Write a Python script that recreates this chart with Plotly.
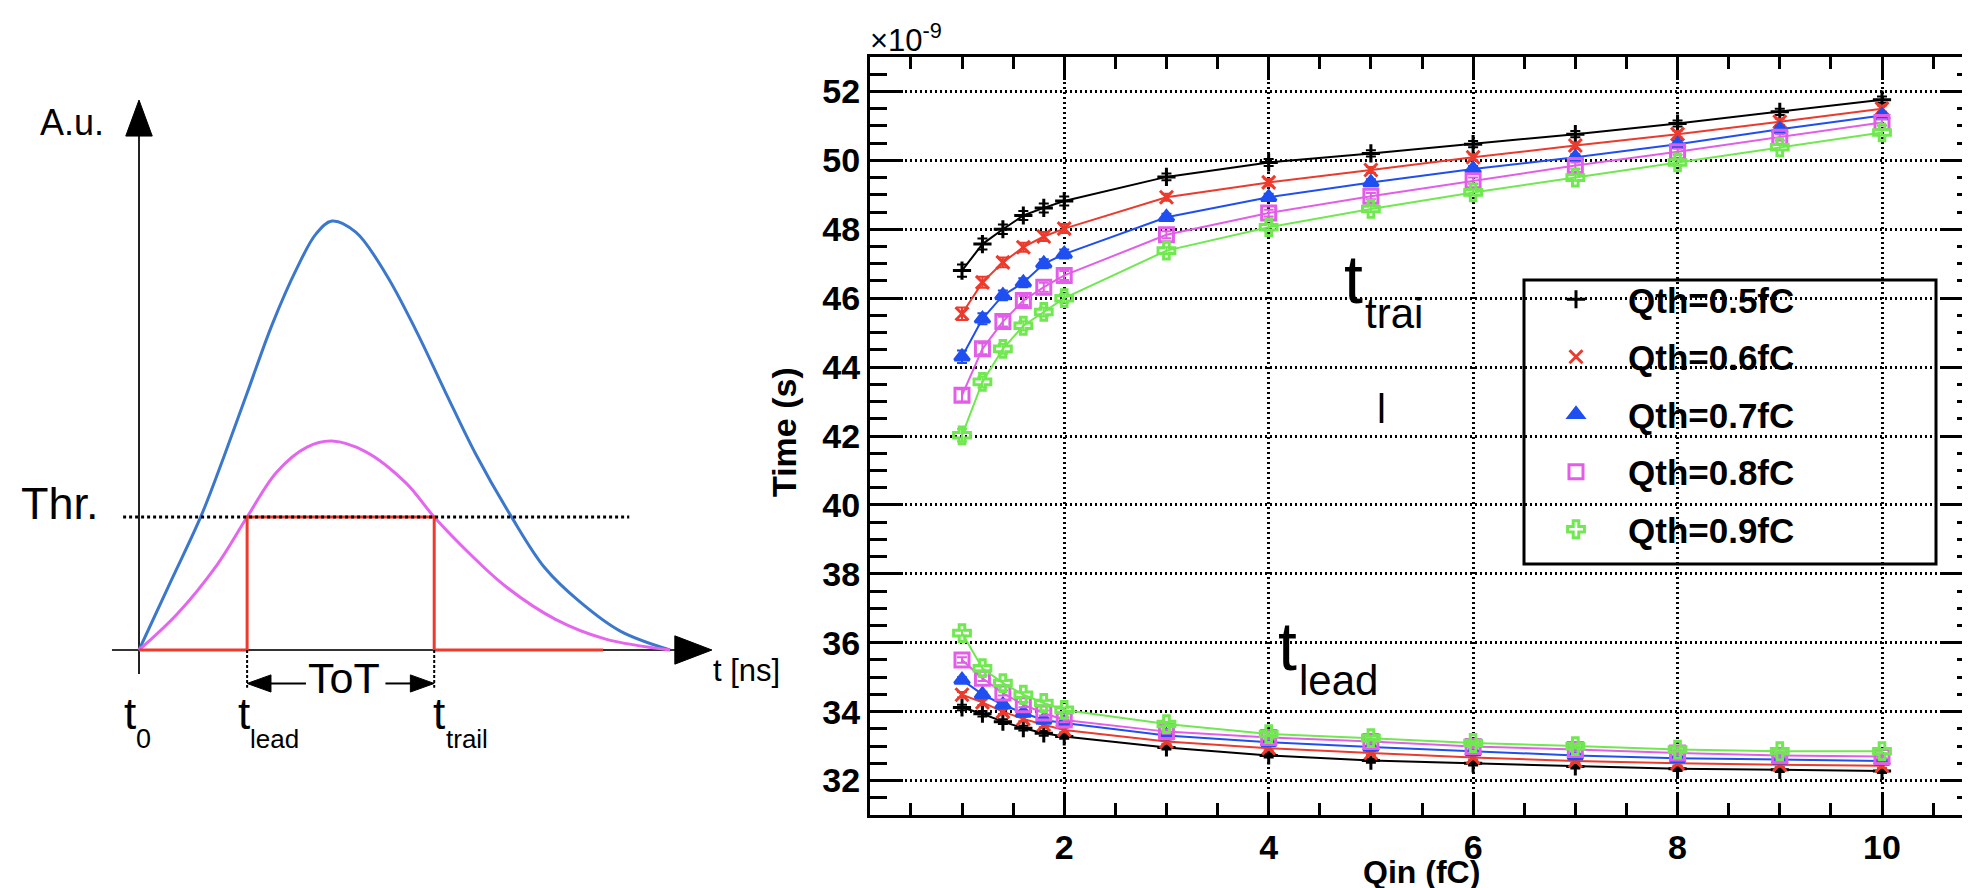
import plotly.graph_objects as go

W, H = 1970, 888

# ---------------- data: right panel (Time vs Qin) ----------------
qin = [1.0, 1.2, 1.4, 1.6, 1.8, 2.0, 3, 4, 5, 6, 7, 8, 9, 10]
series_names = ["Qth=0.5fC", "Qth=0.6fC", "Qth=0.7fC", "Qth=0.8fC", "Qth=0.9fC"]

# trailing edge time (x1e-9 s)
t_trail_05 = [46.80, 47.57, 48.00, 48.40, 48.62, 48.82, 49.52, 49.94, 50.20, 50.47, 50.76, 51.07, 51.41, 51.76]
t_trail_06 = [45.55, 46.46, 47.04, 47.48, 47.79, 48.02, 48.93, 49.36, 49.72, 50.09, 50.43, 50.76, 51.12, 51.50]
t_trail_07 = [44.30, 45.40, 46.08, 46.45, 47.00, 47.28, 48.35, 48.93, 49.36, 49.75, 50.09, 50.47, 50.90, 51.30]
t_trail_08 = [43.18, 44.53, 45.32, 45.93, 46.32, 46.66, 47.84, 48.47, 48.96, 49.41, 49.85, 50.25, 50.67, 51.10]
t_trail_09 = [42.02, 43.57, 44.53, 45.20, 45.60, 46.00, 47.38, 48.06, 48.59, 49.07, 49.50, 49.94, 50.38, 50.81]

# leading edge time (x1e-9 s)
t_lead_05 = [34.12, 33.94, 33.71, 33.52, 33.37, 33.28, 32.96, 32.73, 32.58, 32.50, 32.41, 32.34, 32.31, 32.28]
t_lead_06 = [34.49, 34.27, 34.00, 33.79, 33.62, 33.47, 33.13, 32.94, 32.80, 32.67, 32.57, 32.50, 32.46, 32.43]
t_lead_07 = [34.92, 34.50, 34.20, 33.96, 33.76, 33.67, 33.31, 33.11, 32.97, 32.84, 32.73, 32.65, 32.60, 32.57]
t_lead_08 = [35.50, 34.97, 34.54, 34.20, 33.96, 33.76, 33.42, 33.25, 33.13, 32.99, 32.90, 32.80, 32.73, 32.70]
t_lead_09 = [36.28, 35.26, 34.83, 34.49, 34.25, 34.05, 33.64, 33.35, 33.23, 33.09, 33.00, 32.90, 32.85, 32.85]

err_trail = [0.18, 0.16, 0.14, 0.13, 0.13, 0.13, 0.10, 0.10, 0.09, 0.09, 0.09, 0.09, 0.09, 0.09]
err_lead = [0.08, 0.08, 0.07, 0.07, 0.07, 0.07, 0.06, 0.06, 0.06, 0.06, 0.06, 0.06, 0.06, 0.06]

trail_all = [t_trail_05, t_trail_06, t_trail_07, t_trail_08, t_trail_09]
lead_all = [t_lead_05, t_lead_06, t_lead_07, t_lead_08, t_lead_09]

y_ticks = [32, 34, 36, 38, 40, 42, 44, 46, 48, 50, 52]
x_ticks = [2, 4, 6, 8, 10]

# ---------------- data: left panel (schematic pulse) ----------------
pulse_big_t = [0.00, 0.60, 1.17, 1.60, 2.04, 2.51, 2.98, 3.34, 3.64, 4.09, 4.66, 5.23, 5.79, 6.36, 7.02, 7.66, 8.32, 9.08, 10.02]
pulse_big_a = [0.000, 0.160, 0.312, 0.450, 0.599, 0.758, 0.890, 0.970, 1.000, 0.974, 0.876, 0.744, 0.599, 0.455, 0.312, 0.191, 0.112, 0.044, 0.000]
pulse_small_t = [0.00, 0.72, 1.47, 2.04, 2.60, 3.17, 3.64, 4.28, 5.04, 5.57, 6.26, 6.92, 7.85, 8.79, 10.02]
pulse_small_a = [0.000, 0.084, 0.198, 0.310, 0.415, 0.473, 0.487, 0.462, 0.389, 0.310, 0.222, 0.148, 0.072, 0.026, 0.000]
threshold = 0.31
t_lead_mark = 2.04
t_trail_mark = 5.57
digital_end = 8.755

# ---------------- styles ----------------
colors = ["#000000", "#ec3a2c", "#1f4ff0", "#e25ee8", "#70e850"]
symbols = ["cross-thin", "x-thin", "triangle-up", "square-open", "cross-open"]
msizes = [13, 13, 13, 14, 14]
FONT = "Liberation Sans, Arial, sans-serif"


def px(x):
    return x / W


def py(y):
    return 1 - y / H


fig = go.Figure()

for i in range(5):
    xs = qin + [None] + qin
    ys = trail_all[i] + [None] + lead_all[i]
    es = err_trail + [None] + err_lead
    fig.add_trace(go.Scatter(
        x=xs, y=ys, mode="lines", line=dict(color=colors[i], width=2),
        showlegend=False, hoverinfo="skip", xaxis="x", yaxis="y"))
    fig.add_trace(go.Scatter(
        x=xs, y=ys, mode="markers", name=series_names[i],
        legendgroup=series_names[i],
        marker=dict(symbol=symbols[i], size=msizes[i], color=colors[i],
                    line=dict(color=colors[i], width=3)),
        error_y=dict(type="data", array=es, visible=True, color=colors[i],
                     thickness=2, width=5),
        xaxis="x", yaxis="y"))

# ---------------- schematic traces ----------------
fig.add_trace(go.Scatter(x=pulse_big_t, y=pulse_big_a, mode="lines",
                         line=dict(color="#3b78cc", width=3, shape="spline", smoothing=1.0),
                         showlegend=False, xaxis="x2", yaxis="y2", hoverinfo="skip"))
fig.add_trace(go.Scatter(x=pulse_small_t, y=pulse_small_a, mode="lines",
                         line=dict(color="#e466ef", width=3, shape="spline", smoothing=1.0),
                         showlegend=False, xaxis="x2", yaxis="y2", hoverinfo="skip"))
fig.add_trace(go.Scatter(
    x=[0, t_lead_mark, t_lead_mark, t_trail_mark, t_trail_mark, digital_end],
    y=[0, 0, threshold, threshold, 0, 0], mode="lines",
    line=dict(color="#ee3a2c", width=3), showlegend=False,
    xaxis="x2", yaxis="y2", hoverinfo="skip"))

shapes = []
# schematic axes
shapes.append(dict(type="line", xref="x2", yref="y2", x0=0, x1=0, y0=-0.056, y1=1.20,
                   line=dict(color="#222", width=2), layer="below"))
shapes.append(dict(type="line", xref="x2", yref="y2", x0=-0.51, x1=10.2, y0=0, y1=0,
                   line=dict(color="#333", width=2), layer="below"))
shapes.append(dict(type="path", xref="x2", yref="y2",
                   path="M 0,1.282 L 0.25,1.198 L -0.25,1.198 Z",
                   fillcolor="black", line=dict(color="black", width=1)))
shapes.append(dict(type="path", xref="x2", yref="y2",
                   path="M 10.81,0 L 10.11,0.033 L 10.11,-0.033 Z",
                   fillcolor="black", line=dict(color="black", width=1)))
# threshold line
shapes.append(dict(type="line", xref="x2", yref="y2", x0=-0.30, x1=9.25, y0=threshold, y1=threshold,
                   line=dict(color="black", width=3, dash="3px,3px")))
# dashed marks under t_lead / t_trail
for tm in (t_lead_mark, t_trail_mark):
    shapes.append(dict(type="line", xref="x2", yref="y2", x0=tm, x1=tm, y0=0, y1=-0.088,
                       line=dict(color="black", width=2, dash="3px,2px")))
# ToT arrows
tot_y = -0.078
shapes.append(dict(type="line", xref="x2", yref="y2", x0=t_lead_mark + 0.35, x1=3.15, y0=tot_y, y1=tot_y,
                   line=dict(color="black", width=2)))
shapes.append(dict(type="line", xref="x2", yref="y2", x0=4.65, x1=t_trail_mark - 0.35, y0=tot_y, y1=tot_y,
                   line=dict(color="black", width=2)))
shapes.append(dict(type="path", xref="x2", yref="y2",
                   path=f"M {t_lead_mark},{tot_y} L {t_lead_mark + 0.45},{tot_y + 0.02} "
                        f"L {t_lead_mark + 0.45},{tot_y - 0.02} Z",
                   fillcolor="black", line=dict(color="black", width=1)))
shapes.append(dict(type="path", xref="x2", yref="y2",
                   path=f"M {t_trail_mark},{tot_y} L {t_trail_mark - 0.45},{tot_y + 0.02} "
                        f"L {t_trail_mark - 0.45},{tot_y - 0.02} Z",
                   fillcolor="black", line=dict(color="black", width=1)))

# white patches in the right panel (pasted labels)
shapes.append(dict(type="rect", xref="paper", yref="paper",
                   x0=px(1312), x1=px(1440), y0=py(482), y1=py(236),
                   fillcolor="white", line=dict(width=0), layer="between"))
shapes.append(dict(type="rect", xref="paper", yref="paper",
                   x0=px(1250), x1=px(1390), y0=py(700), y1=py(590),
                   fillcolor="white", line=dict(width=0), layer="between"))
# legend box
shapes.append(dict(type="rect", xref="paper", yref="paper",
                   x0=px(1516), x1=px(1928), y0=py(556), y1=py(272),
                   fillcolor="white", line=dict(color="black", width=3), layer="between"))

annotations = []


def txt(text, x, y, size, xanchor="center", yanchor="middle", bold=False, angle=0):
    annotations.append(dict(
        text=text, x=px(x), y=py(y), xref="paper", yref="paper", showarrow=False,
        xanchor=xanchor, yanchor=yanchor, textangle=angle,
        font=dict(family=FONT, size=size, color="black", weight="bold" if bold else "normal")))


# schematic labels
txt("A.u.", 64, 114, 36)
txt("Thr.", 52, 496, 45)
txt("t", 122, 705, 44)
txt("0", 135, 731, 27)
txt("t", 236, 705, 44)
txt("lead", 266, 731, 26)
txt("t", 431, 705, 44)
txt("trail", 459, 731, 26)
txt("ToT", 336, 670, 43)
txt("t [ns]", 738, 662, 31)

# right panel labels
txt("×10<sup>-9</sup>", 860, 30, 31, xanchor="left")
txt("Time (s)", 776, 424, 34, bold=True, angle=-90)
txt("Qin (fC)", 1413, 864, 32, bold=True)
txt("t", 1345, 271, 68)
txt("trai", 1386, 305, 42)
txt("l", 1373, 401, 40)
txt("t", 1279, 638, 68)
txt("lead", 1330, 672, 42)

axis_common = dict(showline=True, linecolor="black", linewidth=3, mirror="ticks",
                   ticks="inside", tickcolor="black", tickwidth=3,
                   showgrid=True, gridcolor="black", gridwidth=2.5, griddash="2px,3px",
                   zeroline=False,
                   tickfont=dict(family=FONT, size=34, color="black", weight="bold"))

fig.update_layout(
    width=W, height=H, margin=dict(l=0, r=0, t=0, b=0),
    paper_bgcolor="white", plot_bgcolor="white",
    xaxis=dict(domain=[px(862), px(1966)], range=[0.1, 10.9], tickvals=x_ticks,
               ticklen=23,
               minor=dict(dtick=0.5, ticklen=12, tickwidth=2.5, ticks="inside",
                          tickcolor="black", showgrid=False),
               anchor="y", **axis_common),
    yaxis=dict(domain=[py(807), py(49)], range=[31, 53], tickvals=y_ticks,
               ticklen=33,
               minor=dict(dtick=0.5, ticklen=17, tickwidth=2.5, ticks="inside",
                          tickcolor="black", showgrid=False),
               anchor="x", **axis_common),
    xaxis2=dict(domain=[0, px(780)], range=[-131 / 53, 649 / 53], visible=False, anchor="y2"),
    yaxis2=dict(domain=[0, 1], range=[(642 - 888) / 429, 642 / 429], visible=False, anchor="x2"),
    legend=dict(x=px(1516), y=py(262), xanchor="left", yanchor="top",
                bgcolor="rgba(0,0,0,0)", borderwidth=0, itemwidth=94,
                traceorder="grouped", tracegroupgap=9,
                font=dict(family=FONT, size=35, color="black", weight="bold")),
    shapes=shapes, annotations=annotations, showlegend=True,
)

fig.write_html("out.html")
